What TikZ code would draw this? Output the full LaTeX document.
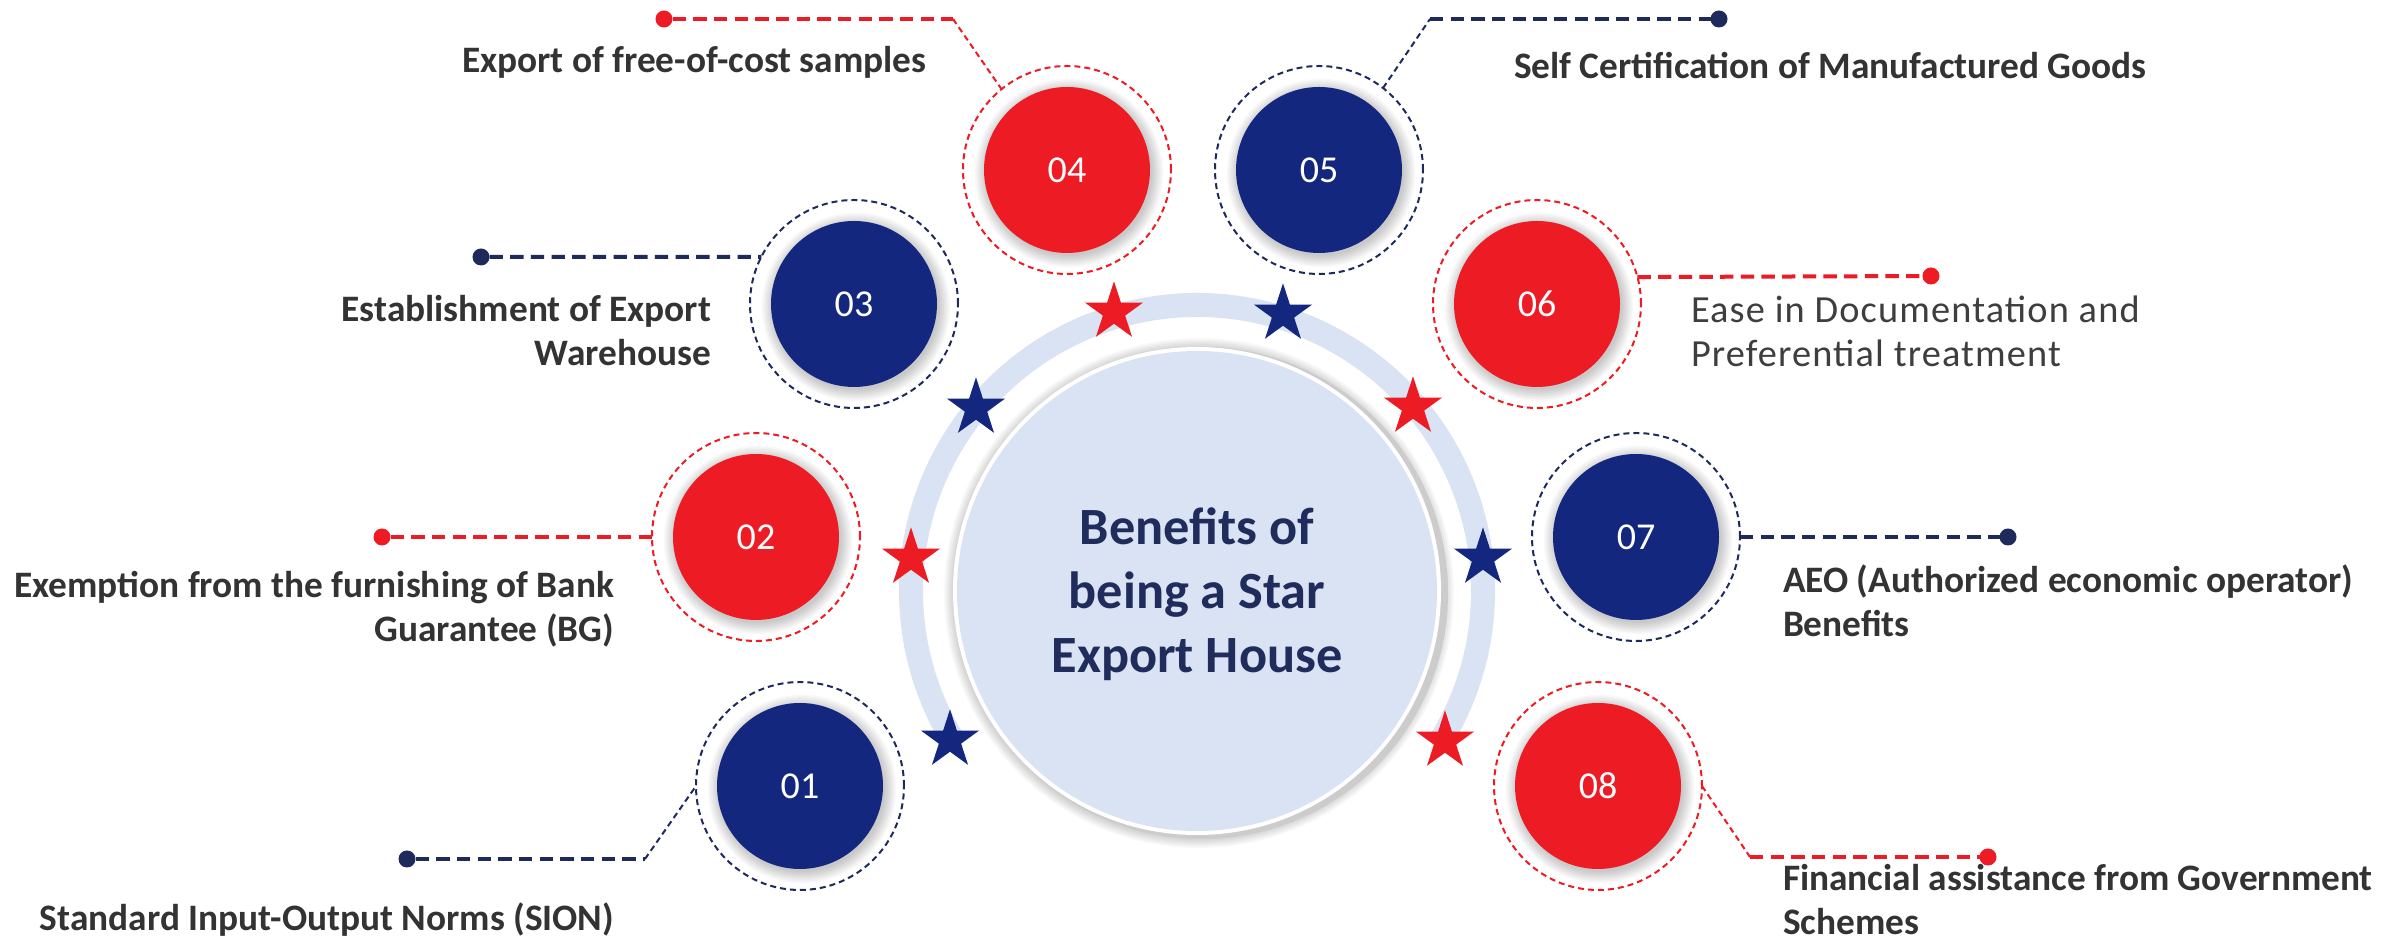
\documentclass[tikz,border=0pt]{standalone}
\usepackage{fontspec}
\setmainfont{Carlito}
\newfontfamily\easefont[LetterSpace=3]{Carlito}
\usetikzlibrary{shapes.geometric,calc}
\definecolor{sred}{HTML}{ED1C24}
\definecolor{snavy}{HTML}{14277F}
\definecolor{lnavy}{HTML}{1F2A5C}
\definecolor{tgray}{HTML}{333333}
\definecolor{egray}{HTML}{3E3E3E}
\definecolor{ttl}{HTML}{1F2C5C}
\definecolor{lblue}{HTML}{DAE3F3}
\newcommand\softshadow[3]{%
  \foreach \k in {0,...,7} {\fill[black, opacity=0.028] (#1+2,#2+3) circle ({#3+\k*1.6});}}
\begin{document}
\begin{tikzpicture}[x=0.3pt,y=-0.3pt,
  numc/.style={circle, inner sep=0, outer sep=0, minimum size=49.8pt, text=white,
    font=\fontsize{11.4}{13}\selectfont},
  ringc/.style={circle, inner sep=0, outer sep=0, minimum size=62.4pt, draw,
    line width=0.6pt, dash pattern=on 1.8pt off 1.2pt},
  dotc/.style={circle, inner sep=0, outer sep=0, minimum size=5.1pt},
  thickdash/.style={line width=1.2pt, dash pattern=on 4pt off 2.2pt},
  thindash/.style={line width=0.6pt, dash pattern=on 1.8pt off 1.2pt},
  starc/.style={star, star points=5, star point ratio=2.618, inner sep=0, outer sep=0,
    minimum size=18.4pt},
  lbl/.style={inner sep=0, outer sep=0, text=tgray, font=\bfseries\fontsize{11.2}{13.3}\selectfont},
]
\useasboundingbox (0,0) rectangle (2400,944);
\fill[white] (0,0) rectangle (2400,944);

% central circle and ring
\draw[lblue, line width=7.2pt] (1197,591) ++(31:286) arc[start angle=31, end angle=-211, radius=286];
\foreach \k in {0,...,6} {\fill[black, opacity=0.03] (1199,593) circle ({244+\k*1.8});}
\fill[black!20] (1202,593) circle (246);
\fill[white] (1197,591) circle (244);
\node[circle, fill=lblue, inner sep=0, outer sep=0, minimum size=144pt] (core) at (1197,591) {};
\node[align=center, inner sep=0, text=ttl, font=\bfseries\fontsize{15.7}{19.2}\selectfont, anchor=base]
  (title) at (1197,673) {Benefits of\\being a Star\\Export House};

% shadows of numbered circles
\softshadow{800}{786}{83}
\softshadow{756}{537}{83}
\softshadow{854}{304}{83}
\softshadow{1067}{170}{83}
\softshadow{1319}{170}{83}
\softshadow{1537}{304}{83}
\softshadow{1636}{537}{83}
\softshadow{1598}{786}{83}

% numbered circles
\node[numc, fill=snavy] (n01) at (800,786) {01};
\node[numc, fill=sred]  (n02) at (756,537) {02};
\node[numc, fill=snavy] (n03) at (854,304) {03};
\node[numc, fill=sred]  (n04) at (1067,170) {04};
\node[numc, fill=snavy] (n05) at (1319,170) {05};
\node[numc, fill=sred]  (n06) at (1537,304) {06};
\node[numc, fill=snavy] (n07) at (1636,537) {07};
\node[numc, fill=sred]  (n08) at (1598,786) {08};

% dashed rings
\node[ringc, lnavy] (d01) at (800,786) {};
\node[ringc, sred]  (d02) at (756,537) {};
\node[ringc, lnavy] (d03) at (854,304) {};
\node[ringc, sred]  (d04) at (1067,170) {};
\node[ringc, lnavy] (d05) at (1319,170) {};
\node[ringc, sred]  (d06) at (1537,304) {};
\node[ringc, lnavy] (d07) at (1636,537) {};
\node[ringc, sred]  (d08) at (1598,786) {};

% stars
\node[starc, fill=snavy] (s01) at (950,740) {};
\node[starc, fill=sred]  (s02) at (911,558) {};
\node[starc, fill=snavy] (s03) at (976,408) {};
\node[starc, fill=sred]  (s04) at (1114,312) {};
\node[starc, fill=snavy] (s05) at (1283,314) {};
\node[starc, fill=sred]  (s06) at (1413,407) {};
\node[starc, fill=snavy] (s07) at (1483,558) {};
\node[starc, fill=sred]  (s08) at (1445,741) {};

% end dots
\node[dotc, fill=lnavy] (p01) at (407,859) {};
\node[dotc, fill=sred]  (p02) at (382,537) {};
\node[dotc, fill=lnavy] (p03) at (481,257) {};
\node[dotc, fill=sred]  (p04) at (664,19) {};
\node[dotc, fill=lnavy] (p05) at (1719,19) {};
\node[dotc, fill=sred]  (p06) at (1931,276) {};
\node[dotc, fill=lnavy] (p07) at (2008,537) {};
\node[dotc, fill=sred]  (p08) at (1988,857) {};

\coordinate (k01) at (645,859);
\coordinate (k04) at (953,19);
\coordinate (k05) at (1430,19);
\coordinate (k08) at (1750,857);

% connectors
\draw[lnavy, thickdash] (p01) -- (k01);
\draw[lnavy, thindash] (k01) -- (d01.180);
\draw[sred, thickdash] (p02) -- (d02.180);
\draw[lnavy, thickdash] (p03) -- (d03.153);
\draw[sred, thickdash] (p04) -- (k04);
\draw[sred, thindash] (k04) -- (d04.129.5);
\draw[lnavy, thindash] (d05.52) -- (k05);
\draw[lnavy, thickdash] (k05) -- (p05);
\draw[sred, thickdash] (d06.15.6) -- (p06);
\draw[lnavy, thickdash] (d07.0) -- (p07);
\draw[sred, thindash] (d08.0) -- (k08);
\draw[sred, thickdash] (k08) -- (p08);

% labels (multi-line nodes: base anchor is on the last line)
\node[lbl, anchor=base west] (t04) at (462,73) {Export of free-of-cost samples};
\node[lbl, anchor=base west] (t05) at (1514,79) {Self Certification of Manufactured Goods};
\node[lbl, anchor=base east, align=right] (t03) at (711,366) {Establishment of Export\\Warehouse};
\node[inner sep=0, outer sep=0, text=egray, font=\easefont\fontsize{11.5}{13.2}\selectfont,
  anchor=base west, align=left] (t06) at (1691,367) {Ease in Documentation and\\Preferential treatment};
\node[lbl, anchor=base east, align=right] (t02) at (614,642) {Exemption from the furnishing of Bank\\Guarantee (BG)};
\node[lbl, anchor=base west, align=left] (t07) at (1783,637) {AEO (Authorized economic operator)\\Benefits};
\node[lbl, anchor=base west] (t01) at (40,931) {Standard Input-Output Norms (SION)};
\node[lbl, anchor=base west, align=left] (t08) at (1783,935) {Financial assistance from Government\\Schemes};
\end{tikzpicture}
\end{document}
